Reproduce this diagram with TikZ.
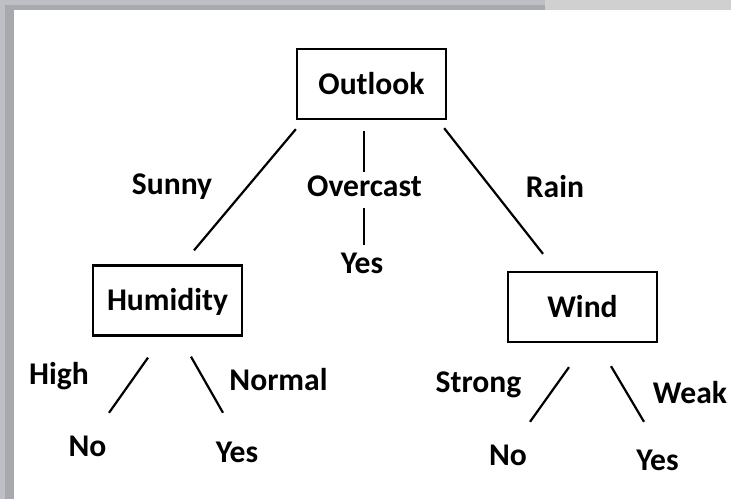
\documentclass[tikz,border=0pt]{standalone}
\usepackage{fontspec}
\setmainfont{Carlito}
\definecolor{frameA}{HTML}{BEBFC4}
\definecolor{frameB}{HTML}{A8A9AD}
\definecolor{frameC}{HTML}{D0D0D0}
\begin{document}
\begin{tikzpicture}[x=1pt, y=-1pt,
  box/.style={draw,line width=2.3pt,inner sep=0pt,minimum width=149pt,minimum height=70pt,
    text height=20pt,text depth=0pt,font=\fontsize{31.6}{36}\selectfont\bfseries},
  lbl/.style={inner sep=0pt,anchor=base,text height=20pt,text depth=0pt,
    font=\fontsize{31.6}{36}\selectfont\bfseries},
  edge/.style={draw,line width=2.2pt}]
  \useasboundingbox (0,0) rectangle (731,499);
  % window frame
  \fill[frameA] (0,0) rectangle (731,499);
  \fill[frameB] (5,5) rectangle (545,10);
  \fill[frameC] (545,0) rectangle (731,10);
  \fill[frameB] (5,5) rectangle (14,499);
  \fill[white] (14,10) rectangle (731,499);

  \node[box] (outlook)  at (371.5,84)  {Outlook};
  \node[box] (humidity) at (167.5,300.5) {Humidity};
  \node[box] (wind)     at (582.5,307) {Wind};

  \node[lbl] (sunny)    at (172,194)   {Sunny};
  \node[lbl] (overcast) at (364.5,196) {Overcast};
  \node[lbl] (rain)     at (555,197)   {Rain};
  \node[lbl] (yesmid)   at (362,273)   {Yes};

  \node[lbl] (high)   at (59,384)    {High};
  \node[lbl] (normal) at (278.5,390) {Normal};
  \node[lbl] (noh)    at (87.5,456)  {No};
  \node[lbl] (yesh)   at (237,462)   {Yes};

  \node[lbl] (strong) at (478.5,392) {Strong};
  \node[lbl] (weak)   at (690,403)   {Weak};
  \node[lbl] (now)    at (508,465)   {No};
  \node[lbl] (yesw)   at (657.5,470) {Yes};

  \draw[edge] ([yshift=-9pt]outlook.south west) -- ([xshift=26.5pt,yshift=14pt]humidity.north);
  \draw[edge] ([xshift=-7.5pt,yshift=-11pt]outlook.south) -- ([xshift=-0.5pt,yshift=4pt]overcast.north);
  \draw[edge] ([xshift=-0.5pt,yshift=-12pt]overcast.south) -- ([xshift=2pt,yshift=8pt]yesmid.north);
  \draw[edge] ([xshift=-3pt,yshift=-8pt]outlook.south east) -- ([xshift=-39.5pt,yshift=17pt]wind.north);

  \draw[edge] ([xshift=-19.5pt,yshift=-21pt]humidity.south) -- ([xshift=21.5pt,yshift=23pt]noh.north);
  \draw[edge] ([xshift=23.5pt,yshift=-20pt]humidity.south) -- ([xshift=-14pt,yshift=29pt]yesh.north);
  \draw[edge] ([xshift=-13.5pt,yshift=-24pt]wind.south) -- ([xshift=22pt,yshift=23pt]now.north);
  \draw[edge] ([xshift=28.5pt,yshift=-23pt]wind.south) -- ([xshift=-13.5pt,yshift=28pt]yesw.north);
\end{tikzpicture}
\end{document}
